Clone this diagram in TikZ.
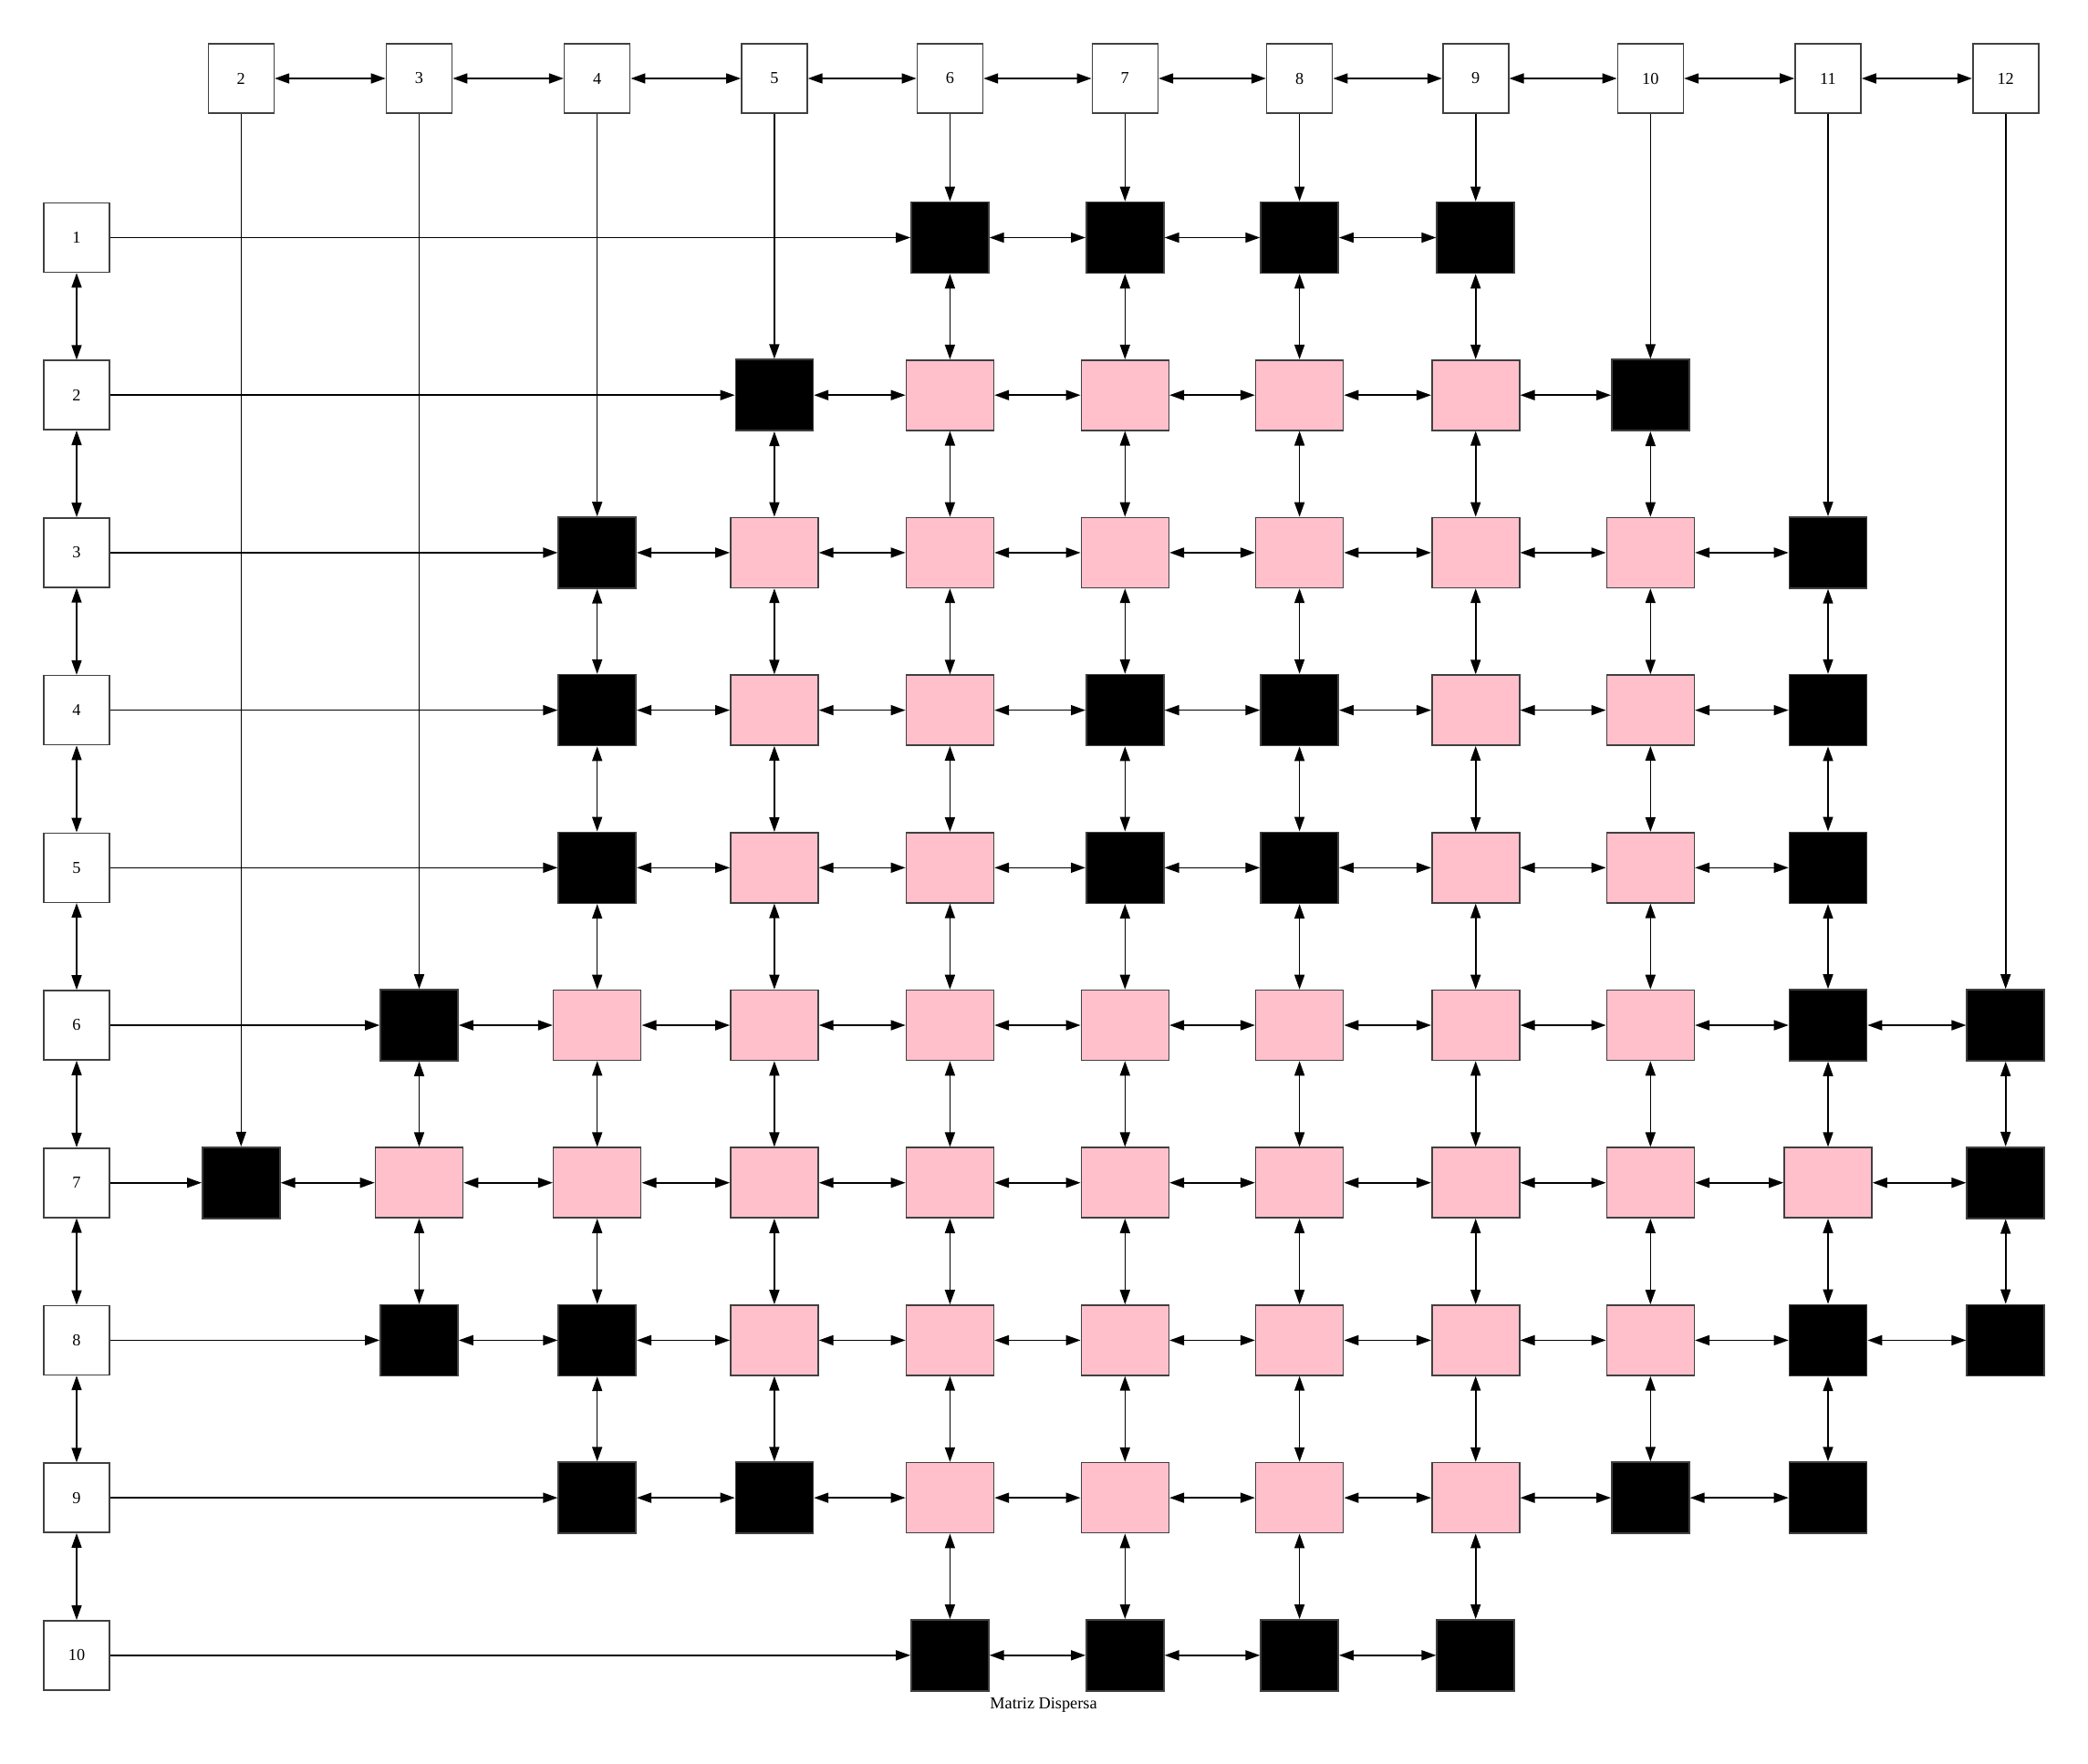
\documentclass[tikz,border=0pt]{standalone}
\usepackage{fontspec}
\setmainfont{Liberation Serif}
\usepackage{tikz}
\usetikzlibrary{arrows.meta}
\definecolor{gvpink}{HTML}{FFC0CB}

\begin{document}
\begin{tikzpicture}[
    hdr/.style={rectangle, draw=black!75, fill=white, minimum width=0.72cm, minimum height=0.76cm, inner sep=0pt},
    celb/.style={rectangle, draw=black!75, fill=black, minimum width=0.85cm, minimum height=0.78cm, inner sep=0pt},
    celp/.style={rectangle, draw=black!75, fill=gvpink, minimum width=0.96cm, minimum height=0.77cm, inner sep=0pt},
    enl/.style={-{Triangle[length=1.6mm, width=1.1mm]}},
    dbl/.style={{Triangle[length=1.6mm, width=1.1mm]}-{Triangle[length=1.6mm, width=1.1mm]}},
    line width=0.45pt,
    font=\fontsize{5.2}{6}\selectfont
]
\useasboundingbox (0,0) rectangle (22.89,-19.33);
% posiciones de columnas y filas
\foreach \c/\x in {2/2.643, 3/4.595, 4/6.547, 5/8.489, 6/10.414, 7/12.333, 8/14.246, 9/16.177, 10/18.093, 11/20.04, 12/21.987}
  \coordinate (x\c) at (\x,-0.86);
\foreach \r in {1,...,10}
  \coordinate (y\r) at (0.84,{-2.605-(\r-1)*1.727});
% cabeceras de columnas y filas
\foreach \c in {2,...,12}
  \node[hdr] (h\c) at (x\c) {\c};
\foreach \r in {1,...,10}
  \node[hdr] (f\r) at (y\r) {\r};
% celdas: fila/{columna/tipo}
\foreach \r/\cels in {
    1/{6/b,7/b,8/b,9/b},
    2/{5/b,6/p,7/p,8/p,9/p,10/b},
    3/{4/b,5/p,6/p,7/p,8/p,9/p,10/p,11/b},
    4/{4/b,5/p,6/p,7/b,8/b,9/p,10/p,11/b},
    5/{4/b,5/p,6/p,7/b,8/b,9/p,10/p,11/b},
    6/{3/b,4/p,5/p,6/p,7/p,8/p,9/p,10/p,11/b,12/b},
    7/{2/b,3/p,4/p,5/p,6/p,7/p,8/p,9/p,10/p,11/p,12/b},
    8/{3/b,4/b,5/p,6/p,7/p,8/p,9/p,10/p,11/b,12/b},
    9/{4/b,5/b,6/p,7/p,8/p,9/p,10/b,11/b},
    10/{6/b,7/b,8/b,9/b}}
  \foreach \c/\t in \cels
    \node[cel\t] (n\r-\c) at (x\c |- y\r) {};
% enlaces de cabeceras
\foreach \c [evaluate=\c as \d using int(\c+1)] in {2,...,11}
  \draw[dbl] (h\c) -- (h\d);
\foreach \r [evaluate=\r as \s using int(\r+1)] in {1,...,9}
  \draw[dbl] (f\r) -- (f\s);
% filas: fila/primera/ultima
\foreach \r/\a/\b in {1/6/9, 2/5/10, 3/4/11, 4/4/11, 5/4/11, 6/3/12, 7/2/12, 8/3/12, 9/4/11, 10/6/9} {
  \draw[enl] (f\r) -- (n\r-\a);
  \foreach \c [evaluate=\c as \d using int(\c+1)] in {\a,...,\b} {
    \ifnum\c<\b \draw[dbl] (n\r-\c) -- (n\r-\d); \fi
  }
}
% columnas: columna/primera/ultima
\foreach \c/\a/\b in {2/7/7, 3/6/8, 4/3/9, 5/2/9, 6/1/10, 7/1/10, 8/1/10, 9/1/10, 10/2/9, 11/3/9, 12/6/8} {
  \draw[enl] (h\c) -- (n\a-\c);
  \foreach \r [evaluate=\r as \s using int(\r+1)] in {\a,...,\b} {
    \ifnum\r<\b \draw[dbl] (n\r-\c) -- (n\s-\c); \fi
  }
}
\node (titulo) at (11.44,-18.69) {Matriz Dispersa};
\end{tikzpicture}
\end{document}
